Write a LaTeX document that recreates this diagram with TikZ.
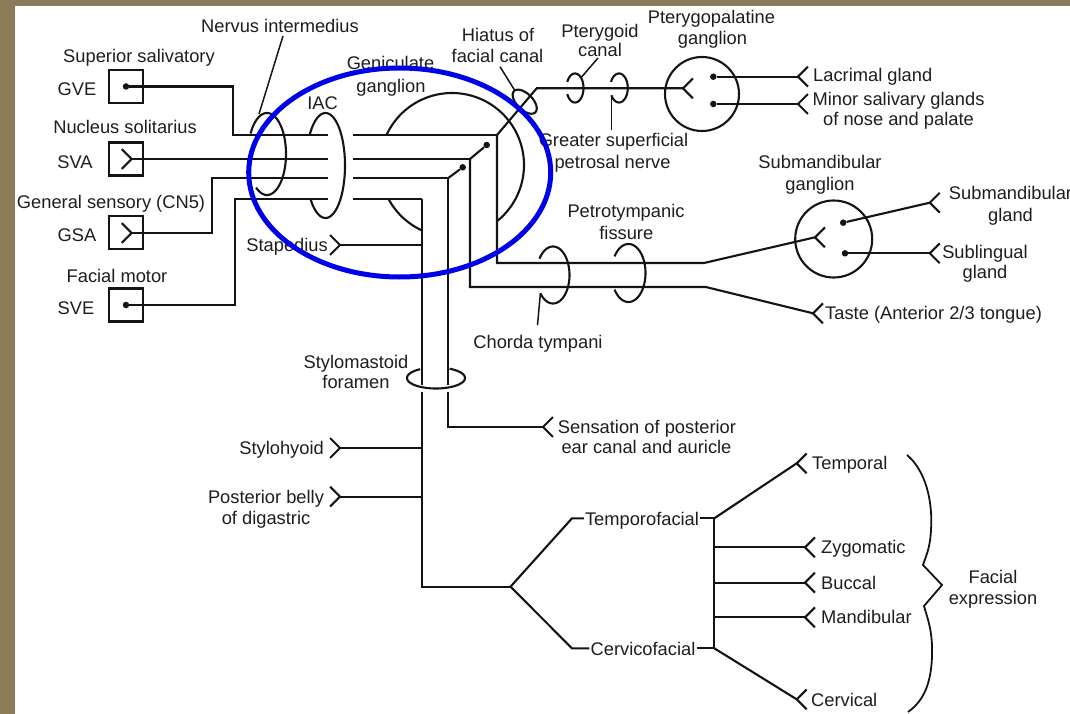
\documentclass[tikz,border=0pt]{standalone}
\usepackage{fontspec}
\setmainfont{Liberation Sans}
\usetikzlibrary{calc}
\definecolor{ink}{RGB}{20,20,20}
\definecolor{txt}{RGB}{30,30,30}
\definecolor{mat}{RGB}{140,123,88}
\definecolor{hilite}{RGB}{0,0,232}
\tikzset{
  nerve/.style={draw=ink, line width=2.1pt},
  leader/.style={draw=ink, line width=1.5pt},
  lbl/.style={font=\fontsize{18.3}{21}\selectfont, text=txt, inner sep=0pt, anchor=base},
  lblw/.style={lbl, anchor=base west},
  lble/.style={lbl, anchor=base east},
  nucleus/.style={draw=ink, line width=2.1pt, minimum width=34pt, minimum height=33pt, inner sep=0pt},
  soma/.style={fill=ink, circle, inner sep=0pt, minimum size=6.5pt},
  ganglion/.style={draw=ink, line width=2.1pt, circle, inner sep=0pt},
}
% fork-shaped nerve ending: vertex, direction the prongs open to
\newcommand\prongs[2]{\draw[nerve] ($(#1)+({#2+45}:14)$) -- (#1) -- ($(#1)+({#2-45}:14)$);}
% elliptic arc: cx, cy, rx, ry, start, end (y grows downwards)
\newcommand\ringarc[6]{\draw[nerve] plot[domain=#5:#6, samples=90, smooth] ({#1+#3*cos(\x)},{#2+#4*sin(\x)});}

\begin{document}
\begin{tikzpicture}[x=1pt, y=-1pt, line join=miter]
\useasboundingbox (0,0) rectangle (1070,714);
\clip (0,0) rectangle (1070,714);
\fill[mat] (0,0) rectangle (1070,714);
\fill[white] (15,6) rectangle (1070,714);

% ---------------- brainstem nuclei ----------------
\node[nucleus] (gve) at (126,86.5) {};
\node[nucleus] (sva) at (126,159) {};
\node[nucleus] (gsa) at (126,232.5) {};
\node[nucleus] (sve) at (126,305) {};
\node[soma] (gvedot) at (gve.center) {};
\node[soma] (svedot) at (sve.center) {};
\coordinate (svaTip) at (131.7,159);
\coordinate (gsaTip) at (131.7,233);
\prongs{svaTip}{180}
\prongs{gsaTip}{180}

\node[lbl] (tSup) at (139,62.5) {Superior salivatory};
\node[lbl] (tGVE) at (77,95.5) {GVE};
\node[lbl] (tNuc) at (125,134) {Nucleus solitarius};
\node[lbl] (tSVA) at (75,168) {SVA};
\node[lbl] (tGen) at (111,208) {General sensory (CN5)};
\node[lbl] (tGSA) at (77,241.5) {GSA};
\node[lbl] (tFac) at (117,282.5) {Facial motor};
\node[lbl] (tSVE) at (76,314) {SVE};

% ---------------- fibres up to the internal acoustic canal ----------------
\coordinate (iacL1) at (328,135);   \coordinate (iacR1) at (353,135);
\coordinate (iacL2) at (328,159);   \coordinate (iacR2) at (353,159);
\coordinate (iacL3) at (328,178);   \coordinate (iacR3) at (353,178);
\coordinate (iacL4) at (328,199);   \coordinate (iacR4) at (353,199);
\draw[nerve] (gvedot) -| (233.3,135) -- (iacL1);
\draw[nerve] (svaTip) -- (iacL2);
\draw[nerve] (gsaTip) -| (211.7,178) -- (iacL3);
\draw[nerve] (svedot) -| (235,199) -- (iacL4);

% nervus intermedius and IAC rings
\ringarc{267}{154}{19}{41}{210}{485}
\coordinate (niLead) at (283,36);
\coordinate (niRing) at (259,114);
\draw[leader] (niLead) -- (niRing);
\node[lbl] (tNI) at (280,33) {Nervus intermedius};
\ringarc{325.5}{165.5}{19.5}{52.5}{215}{500}
\node[lbl] (tIAC) at (322.5,109.5) {IAC};

% ---------------- geniculate ganglion region ----------------
\coordinate (gen1) at (497,135);
\coordinate (gen2) at (470,159);
\coordinate (gen3) at (448.3,178);
\coordinate (gen4) at (421.7,199);
\draw[nerve] (iacR1) -- (gen1);
\draw[nerve] (iacR2) -- (gen2);
\draw[nerve] (iacR3) -- (gen3);
\draw[nerve] (iacR4) -- (gen4);
\ringarc{452}{165}{72}{72}{204.6}{411.3}
\ringarc{452}{165}{72}{72}{114.9}{151.8}
\node[soma] (gg2) at (486.7,145) {};
\node[soma] (gg3) at (462.7,167.3) {};
\draw[nerve] (gen2) -- (gg2);
\draw[nerve] (gen3) -- (gg3);
\node[lbl] (tGen1) at (390.5,69.5) {Geniculate};
\node[lbl] (tGen2) at (391,93) {ganglion};

% ---------------- greater superficial petrosal nerve ----------------
\coordinate (hiatusOut) at (536.7,88.3);
\coordinate (pptTip) at (683,88.3);
\draw[nerve] (gen1) -- (hiatusOut) -- (pptTip);
\draw[nerve] plot[domain=0:360, samples=90, smooth]
  ({524.7+15*cos(\x)*cos(45)-8*sin(\x)*sin(45)},{101.7+15*cos(\x)*sin(45)+8*sin(\x)*cos(45)});
\coordinate (hiaLead) at (500,66.7);
\coordinate (hiaRing) at (514.5,90);
\draw[leader] (hiaLead) -- (hiaRing);
\node[lbl] (tHia1) at (498,41.5) {Hiatus of};
\node[lbl] (tHia2) at (497.5,63) {facial canal};

\ringarc{575}{88}{8.5}{14.5}{205}{515}
\ringarc{619}{88}{8.75}{14.5}{205}{510}
\coordinate (ptcRing) at (581,77.7);
\coordinate (ptcLead) at (598,58);
\draw[leader] (ptcRing) -- (ptcLead);
\coordinate (gspRing) at (611.4,95.3);
\coordinate (gspLead) at (611.4,130);
\draw[leader] (gspRing) -- (gspLead);
\node[lbl] (tPtc1) at (600,37.5) {Pterygoid};
\node[lbl] (tPtc2) at (600,56.5) {canal};
\node[lbl] (tGsp1) at (613.5,146.5) {Greater superficial};
\node[lbl] (tGsp2) at (612.5,168) {petrosal nerve};

% pterygopalatine ganglion
\node[ganglion, minimum size=74pt] (ppg) at (702,94) {};
\prongs{pptTip}{0}
\node[soma] (ppgA) at (713.3,76.7) {};
\node[soma] (ppgB) at (713.3,104) {};
\coordinate (lacTip) at (798,76.7);
\coordinate (minTip) at (798,104);
\draw[nerve] (ppgA) -- (lacTip);
\draw[nerve] (ppgB) -- (minTip);
\prongs{lacTip}{0}
\prongs{minTip}{0}
\node[lbl] (tPpg1) at (711.5,24) {Pterygopalatine};
\node[lbl] (tPpg2) at (712.5,44.5) {ganglion};
\node[lblw] (tLac) at (813,81.5) {Lacrimal gland};
\node[lbl] (tMin1) at (898.5,105.5) {Minor salivary glands};
\node[lbl] (tMin2) at (898.5,125.5) {of nose and palate};

% ---------------- chorda tympani ----------------
\coordinate (ctTurn) at (497,263);
\coordinate (ctBend) at (704,263);
\coordinate (smgTip) at (815,237.3);
\draw[nerve] (gen1) -- (ctTurn) -- (ctBend) -- (smgTip);
\coordinate (tTurn) at (470,287);
\coordinate (tBend) at (705.8,287);
\coordinate (tasteTip) at (813,313.3);
\draw[nerve] (gen2) -- (tTurn) -- (tBend) -- (tasteTip);
\prongs{tasteTip}{0}
\node[lblw] (tTaste) at (825,319.5) {Taste (Anterior 2/3 tongue)};

\ringarc{553}{275}{16.5}{28.5}{215}{500}
\ringarc{628.5}{273}{17}{29}{215}{505}
\coordinate (ctRing) at (540.4,293.3);
\coordinate (ctLead) at (537.5,325);
\draw[leader] (ctRing) -- (ctLead);
\node[lbl] (tPet1) at (626,218) {Petrotympanic};
\node[lbl] (tPet2) at (626.3,239) {fissure};
\node[lbl] (tCT) at (538,348) {Chorda tympani};

% submandibular ganglion
\node[ganglion, minimum size=77pt] (smg) at (833.7,239) {};
\prongs{smgTip}{0}
\node[soma] (smgA) at (843.2,222.7) {};
\node[soma] (smgB) at (845,253.3) {};
\coordinate (smglTip) at (929.8,202.7);
\coordinate (slTip) at (929.8,253.3);
\draw[nerve] (smgA) -- (smglTip);
\draw[nerve] (smgB) -- (slTip);
\prongs{smglTip}{0}
\prongs{slTip}{0}
\node[lbl] (tSmg1) at (820,169) {Submandibular};
\node[lbl] (tSmg2) at (820,190) {ganglion};
\node[lbl] (tSml1) at (1010.5,200) {Submandibular};
\node[lbl] (tSml2) at (1010.5,221.5) {gland};
\node[lbl] (tSl1) at (985,258) {Sublingual};
\node[lbl] (tSl2) at (985,278) {gland};

% ---------------- descending trunk ----------------
\coordinate (smA) at (448.3,384.5);
\coordinate (smB) at (448.3,391.5);
\coordinate (earTurn) at (448.3,427);
\coordinate (earTip) at (543,427);
\draw[nerve] (gen3) -- (smA);
\draw[nerve] (smB) -- (earTurn) -- (earTip);
\prongs{earTip}{0}
\node[lbl] (tEar1) at (647,433) {Sensation of posterior};
\node[lbl] (tEar2) at (646.5,453.5) {ear canal and auricle};

\coordinate (mA) at (421.7,384.5);
\coordinate (mB) at (421.7,391.5);
\coordinate (mTurn) at (421.7,586.7);
\coordinate (pesA) at (510.5,586.7);
\draw[nerve] (gen4) -- (mA);
\draw[nerve] (mB) -- (mTurn) -- (pesA);
\ringarc{436}{378}{29}{10.5}{298}{597}
\node[lbl] (tSty1) at (356,368) {Stylomastoid};
\node[lbl] (tSty2) at (356,388) {foramen};

\coordinate (stapTip) at (340,245);
\coordinate (shTip) at (340,448);
\coordinate (pbTip) at (340,496.7);
\draw[nerve] (stapTip) -- (stapTip -| gen4);
\draw[nerve] (shTip) -- (shTip -| gen4);
\draw[nerve] (pbTip) -- (pbTip -| gen4);
\prongs{stapTip}{180}
\prongs{shTip}{180}
\prongs{pbTip}{180}
\node[lble] (tStap) at (328,251.5) {Stapedius};
\node[lble] (tSh) at (324,454.5) {Stylohyoid};
\node[lbl] (tPb1) at (266,503) {Posterior belly};
\node[lbl] (tPb2) at (266,524.5) {of digastric};

% ---------------- pes anserinus ----------------
\node[lbl, inner xsep=1pt] (tTF) at (642,525) {Temporofacial};
\node[lbl, inner xsep=1pt] (tCF) at (643,655) {Cervicofacial};
\coordinate (tfA) at (572,518.3);
\coordinate (cfA) at (572,648.3);
\coordinate (tfD) at (714.3,518.3);
\coordinate (cfD) at (714.3,648.3);
\draw[nerve] (pesA) -- (tfA) -- (tfA -| tTF.west);
\draw[nerve] (pesA) -- (cfA) -- (cfA -| tCF.west);
\draw[nerve] (tTF.east |- tfD) -- (tfD);
\draw[nerve] (tCF.east |- cfD) -- (cfD);
\draw[nerve] (tfD) -- (cfD);

\coordinate (tmpTip) at (796.7,463.3);
\coordinate (zygTip) at (805,547.3);
\coordinate (bucTip) at (805,582.7);
\coordinate (manTip) at (805,617.3);
\coordinate (cerTip) at (796.7,699.3);
\draw[nerve] (tfD) -- (tmpTip);
\draw[nerve] (zygTip -| tfD) -- (zygTip);
\draw[nerve] (bucTip -| tfD) -- (bucTip);
\draw[nerve] (manTip -| tfD) -- (manTip);
\draw[nerve] (cfD) -- (cerTip);
\prongs{tmpTip}{0}
\prongs{zygTip}{0}
\prongs{bucTip}{0}
\prongs{manTip}{0}
\prongs{cerTip}{0}
\node[lblw] (tTmp) at (812,469.5) {Temporal};
\node[lblw] (tZyg) at (821,553.5) {Zygomatic};
\node[lblw] (tBuc) at (821,589) {Buccal};
\node[lblw] (tMan) at (821,623.5) {Mandibular};
\node[lblw] (tCer) at (811,706.5) {Cervical};

% brace grouping the muscles of facial expression
\draw[ink, line width=1.8pt] (907,455) .. controls (925,470) and (933,500) .. (931,530)
  .. controls (930,550) and (925,558) .. (923,565) -- (942,585) -- (924,606)
  .. controls (926,614) and (931,625) .. (932,645)
  .. controls (933,680) and (925,700) .. (908,712);
\node[lbl] (tFe1) at (993,583) {Facial};
\node[lbl] (tFe2) at (993,604) {expression};

% highlight round the intratemporal course
\draw[draw=hilite, line width=5pt] (399.7,172.5) ellipse [x radius=151, y radius=104.5];
\end{tikzpicture}
\end{document}
